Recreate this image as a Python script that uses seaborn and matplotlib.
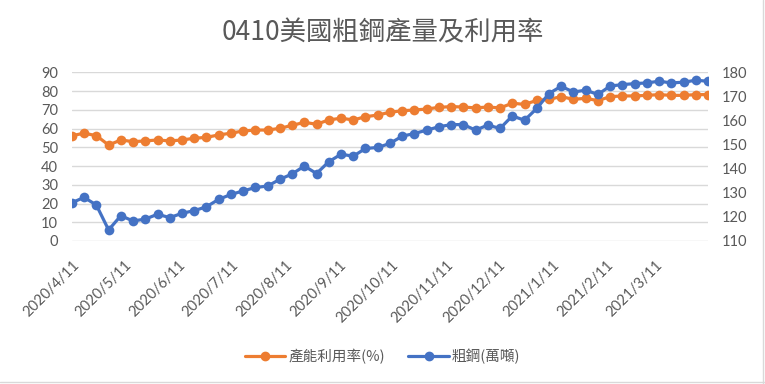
import pandas as pd
import numpy as np
import matplotlib
matplotlib.use("Agg")
import matplotlib.pyplot as plt
import matplotlib.dates as mdates
from matplotlib.lines import Line2D
import seaborn as sns

# Weekly data points, starting 2020/4/11
dates = pd.date_range("2020-04-11", periods=53, freq="7D")

utilization = [56.2, 57.5, 56.2, 51.2, 53.9, 53.0, 53.4, 53.9, 53.4, 53.9,
               54.8, 55.3, 56.6, 57.5, 58.7, 59.2, 59.2, 60.1, 61.7, 63.3,
               62.3, 64.6, 65.5, 64.6, 66.3, 67.2, 68.7, 69.5, 69.9, 70.4,
               71.3, 71.7, 71.5, 71.0, 71.5, 71.0, 73.5, 72.9, 75.0, 75.6,
               77.0, 75.6, 76.1, 74.9, 77.0, 77.4, 77.4, 77.7, 78.1, 77.7,
               77.7, 78.1, 78.1]

crude_steel = [125.9, 128.1, 124.9, 114.6, 120.5, 118.3, 119.1, 121.1, 119.7, 121.5,
               122.6, 124.2, 127.3, 129.3, 130.8, 132.2, 132.8, 135.6, 137.8, 141.1,
               138.0, 142.9, 146.0, 145.2, 148.4, 148.8, 150.5, 153.5, 154.6, 156.0,
               157.4, 158.3, 158.3, 156.0, 158.1, 156.7, 161.9, 160.1, 165.0, 171.2,
               174.2, 171.8, 172.6, 170.8, 174.3, 174.9, 175.3, 175.6, 176.3, 175.6,
               175.9, 176.7, 176.3]

tick_dates = ["2020-04-11", "2020-05-11", "2020-06-11", "2020-07-11", "2020-08-11", "2020-09-11",
              "2020-10-11", "2020-11-11", "2020-12-11", "2021-01-11", "2021-02-11", "2021-03-11"]
tick_labels = ["2020/4/11", "2020/5/11", "2020/6/11", "2020/7/11", "2020/8/11", "2020/9/11",
               "2020/10/11", "2020/11/11", "2020/12/11", "2021/1/11", "2021/2/11", "2021/3/11"]

df = pd.DataFrame({"date": dates, "util": utilization, "steel": crude_steel})

orange = "#ED7D31"
blue = "#4472C4"
grey_text = "#595959"

sns.set_style("white")
plt.rcParams['font.family'] = ['Lato', 'Noto Sans CJK TC', 'DejaVu Sans']
cjk = ['Noto Sans CJK TC', 'DejaVu Sans']

fig = plt.figure(figsize=(7.65, 3.84), dpi=100)
ax = fig.add_axes([0.094, 0.3724, 0.8315, 0.4393])
ax2 = ax.twinx()

# To plot both series
sns.lineplot(data=df, x="date", y="util", ax=ax, color=orange, linewidth=2.3,
             marker="o", markersize=7, markeredgewidth=0)
sns.lineplot(data=df, x="date", y="steel", ax=ax2, color=blue, linewidth=2.3,
             marker="o", markersize=7, markeredgewidth=0)

ax.set_xlim(dates[0], dates[-1])
ax.set_ylim(0, 90)
ax.set_yticks(np.arange(0, 91, 10))
ax2.set_ylim(110, 180)
ax2.set_yticks(np.arange(110, 181, 10))

ax.set_xticks(pd.to_datetime(tick_dates))
ax.set_xticklabels(tick_labels, rotation=45, ha="right", rotation_mode="anchor")

ax.grid(axis="y", color="#D9D9D9", linewidth=1)
ax.set_axisbelow(True)
for a in (ax, ax2):
    for s in a.spines.values():
        s.set_visible(False)
    a.set_xlabel("")
    a.set_ylabel("")
    a.tick_params(length=0, labelsize=10.5, labelcolor=grey_text)
ax.tick_params(axis="y", pad=10)
ax2.tick_params(axis="y", pad=10)
ax.tick_params(axis="x", pad=12)

# Title
fig.text(0.5, 0.915, "0410美國粗鋼產量及利用率", ha="center", va="center",
         fontsize=19, color=grey_text, family=cjk)

# Legend at the bottom
handles = [Line2D([], [], color=orange, linewidth=2.3, marker="o", markersize=6),
           Line2D([], [], color=blue, linewidth=2.3, marker="o", markersize=6)]
fig.legend(handles, ["產能利用率(%)", "粗鋼(萬噸)"], loc="center", bbox_to_anchor=(0.5, 0.073),
           ncol=2, frameon=False, handlelength=2.8, handletextpad=0.2, columnspacing=1.6,
           prop={"family": cjk, "size": 10.5}, labelcolor=grey_text)

# Thin chart border on right and bottom
fig.add_artist(Line2D([0.997, 0.997], [0.0, 1.0], color="#D9D9D9", linewidth=1))
fig.add_artist(Line2D([0.0, 1.0], [0.004, 0.004], color="#D9D9D9", linewidth=1))

fig.savefig("out.png", dpi=100)
